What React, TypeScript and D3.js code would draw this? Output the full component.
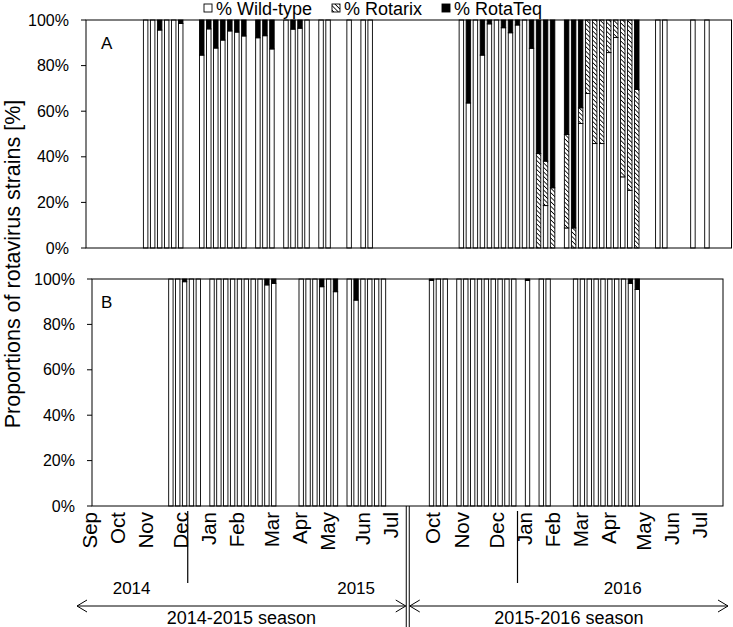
import React from 'react';
import * as d3 from 'd3';

// weekly categories, the Aug/Sep 2015 gap is left out of the axis
const weeks = (
  '2014-36 2014-37 2014-38 2014-39 2014-40 2014-41 2014-42 2014-43 2014-44 2014-45 2014-46 2014-47 2014-48 2014-49 2014-50 2014-51 2014-52 ' +
  '2015-01 2015-02 2015-03 2015-04 2015-05 2015-06 2015-07 2015-08 2015-09 2015-10 2015-11 2015-12 2015-13 2015-14 2015-15 2015-16 2015-17 ' +
  '2015-18 2015-19 2015-20 2015-21 2015-22 2015-23 2015-24 2015-25 2015-26 2015-27 2015-28 2015-29 ' +
  '2015-37 2015-38 2015-39 2015-40 2015-41 2015-42 2015-43 2015-44 2015-45 2015-46 2015-47 2015-48 2015-49 2015-50 2015-51 2015-52 2015-53 ' +
  '2016-01 2016-02 2016-03 2016-04 2016-05 2016-06 2016-07 2016-08 2016-09 2016-10 2016-11 2016-12 2016-13 2016-14 2016-15 2016-16 2016-17 ' +
  '2016-18 2016-19 2016-20 2016-21 2016-22 2016-23 2016-24 2016-25 2016-26 2016-27 2016-28 2016-29'
).split(' ');

// panel A
const weeksA = [
  '2014-44', '2014-45', '2014-46', '2014-47', '2014-48', '2014-49',
  '2014-52', '2015-01', '2015-02', '2015-03', '2015-04', '2015-05', '2015-06',
  '2015-08', '2015-09', '2015-10', '2015-12', '2015-13', '2015-14', '2015-15',
  '2015-17', '2015-18', '2015-21', '2015-23', '2015-24',
  '2015-44', '2015-45', '2015-46', '2015-47', '2015-48', '2015-49', '2015-50', '2015-51', '2015-52', '2015-53',
  '2016-01', '2016-02', '2016-03', '2016-04', '2016-06', '2016-07', '2016-08', '2016-09', '2016-10', '2016-11',
  '2016-12', '2016-13', '2016-14', '2016-15', '2016-16', '2016-19', '2016-20', '2016-24', '2016-26',
];
const wildA = [
  100, 100, 95.6, 100, 100, 98.5,
  84.6, 96.1, 87.7, 91.2, 95.2, 94.7, 93,
  92.2, 93.1, 87.3, 100, 96, 96.4, 100,
  100, 100, 100, 100, 100,
  100, 63.6, 100, 84.6, 98.3, 100, 96.6, 94.4, 97.8, 100,
  87.6, 0, 18.6, 0, 8.8, 0, 54.6, 67.8, 45.8, 45.8,
  85.7, 92.3, 31.2, 25.3, 0, 100, 100, 100, 100,
];
const rotarixA = [
  0, 0, 0, 0, 0, 0,
  0, 0, 0, 0, 0, 0, 0,
  0, 0, 0, 0, 0, 0, 0,
  0, 0, 0, 0, 0,
  0, 0, 0, 0, 0, 0, 0, 0, 0, 0,
  0, 41.4, 19.5, 26.4, 41, 8.8, 6.9, 32.2, 54.2, 54.2,
  14.3, 7.7, 68.8, 74.7, 69.6, 0, 0, 0, 0,
];
const rotateqA = [
  0, 0, 4.4, 0, 0, 1.5,
  15.4, 3.9, 12.3, 8.8, 4.8, 5.3, 7,
  7.8, 6.9, 12.7, 0, 4, 3.6, 0,
  0, 0, 0, 0, 0,
  0, 36.4, 0, 15.4, 1.7, 0, 3.4, 5.6, 2.2, 0,
  12.4, 58.6, 61.9, 73.6, 50.2, 91.2, 38.5, 0, 0, 0,
  0, 0, 0, 0, 30.4, 0, 0, 0, 0,
];

// panel B
const weeksB = [
  '2014-47', '2014-48', '2014-49', '2014-50', '2014-51',
  '2015-01', '2015-02', '2015-03', '2015-04', '2015-05', '2015-06', '2015-07', '2015-08', '2015-09', '2015-10',
  '2015-14', '2015-15', '2015-16', '2015-17', '2015-18', '2015-19',
  '2015-21', '2015-22', '2015-23', '2015-24', '2015-25', '2015-26',
  '2015-40', '2015-41', '2015-42',
  '2015-44', '2015-45', '2015-46', '2015-47', '2015-48', '2015-49', '2015-50', '2015-51', '2015-52',
  '2016-01', '2016-03', '2016-04',
  '2016-08', '2016-09', '2016-10', '2016-11', '2016-12', '2016-13', '2016-14', '2016-15', '2016-16', '2016-17',
];
const rotateqB = [
  0, 0, 1.2, 0, 0,
  0, 0, 0, 0, 0, 0, 0, 0, 2.6, 1.9,
  0, 0, 0, 3.4, 0, 5.6,
  0, 9.3, 0, 0, 0, 0,
  0.6, 0, 0,
  0, 0, 0, 0, 0, 0, 0, 0, 0,
  0.6, 0, 0,
  0, 0, 0, 0, 0, 0, 0, 0, 1.9, 4.6,
];
const rotarixB = weeksB.map(() => 0);
const wildB = [
  100, 100, 98.8, 100, 100,
  100, 100, 100, 100, 100, 100, 100, 100, 97.4, 98.1,
  100, 100, 100, 96.6, 100, 94.4,
  100, 90.7, 100, 100, 100, 100,
  99.4, 100, 100,
  100, 100, 100, 100, 100, 100, 100, 100, 100,
  99.4, 100, 100,
  100, 100, 100, 100, 100, 100, 100, 100, 98.1, 95.4,
];

const yTicks = [0, 20, 40, 60, 80, 100];
const monthLabels = ['Sep', 'Oct', 'Nov', 'Dec', 'Jan', 'Feb', 'Mar', 'Apr', 'May', 'Jun', 'Jul',
  'Oct', 'Nov', 'Dec', 'Jan', 'Feb', 'Mar', 'Apr', 'May', 'Jun', 'Jul'];
const monthWeeks = ['2014-36', '2014-40', '2014-44', '2014-49', '2015-01', '2015-05', '2015-10', '2015-14', '2015-18', '2015-23', '2015-27',
  '2015-40', '2015-44', '2015-49', '2015-53', '2016-04', '2016-08', '2016-12', '2016-17', '2016-21', '2016-25'];
const yearLabels = ['2014', '2015', '2016'];
const yearWeeks = ['2014-42', '2015-22', '2016-14'];
const yearSplitWeeks = ['2014-50', '2015-52'];
const seasonLabels = ['2014-2015 season', '2015-2016 season'];
const keys = ['wild', 'rotarix', 'rotateq'];
const legendLabels = ['% Wild-type', '% Rotarix', '% RotaTeq'];

const FONT = 'Liberation Sans, Arial, Helvetica, sans-serif';
const fills: Record<string, string> = { wild: '#fff', rotarix: 'url(#hatch)', rotateq: '#000' };

const rows = (wk: string[], w: number[], rx: number[], rq: number[]) =>
  wk.map((week, i) => ({ week, wild: w[i], rotarix: rx[i], rotateq: rq[i] }));

function Panel({ left, right, top, bottom, data, letter, letterX }) {
  const x = d3.scaleBand<string>().domain(weeks).range([left, right]).paddingInner(0.36).paddingOuter(0.18);
  const y = d3.scaleLinear().domain([0, 100]).range([bottom, top]);
  const series = d3.stack<any>().keys(keys)(data);
  return (
    <g>
      {series.map((s) => (
        <g key={s.key} fill={fills[s.key]} stroke="#000" strokeWidth={0.9}>
          {s.map((d, i) =>
            d[1] - d[0] > 0 ? (
              <rect key={i} x={x(d.data.week)} width={x.bandwidth()} y={y(d[1])} height={y(d[0]) - y(d[1])} />
            ) : null
          )}
        </g>
      ))}
      <rect x={left} y={top} width={right - left} height={bottom - top} fill="none" stroke="#000" strokeWidth={1} />
      {yTicks.map((t) => (
        <g key={t}>
          <line x1={left - 5} x2={left} y1={y(t)} y2={y(t)} stroke="#000" />
          <text x={left - 17} y={y(t)} dy="0.35em" textAnchor="end" fontSize={16}>{t}%</text>
        </g>
      ))}
      <text x={left + letterX} y={top + 28.5} fontSize={17}>{letter}</text>
    </g>
  );
}

export default function App() {
  const dataA = rows(weeksA, wildA, rotarixA, rotateqA);
  const dataB = rows(weeksB, wildB, rotarixB, rotateqB);
  const xA = d3.scaleBand<string>().domain(weeks).range([86, 731.5]).paddingInner(0.36).paddingOuter(0.18);
  const mid = (w: string) => (xA(w) as number) + xA.bandwidth() / 2;
  const split = ((xA('2015-29') as number) + xA.bandwidth() + (xA('2015-37') as number)) / 2 - 1;
  const legendX = [204, 332, 442];
  const arrowY = 606;
  const arrows = [[77, split - 2], [split + 2, 728]];

  return (
    <svg width={733} height={627} style={{ position: 'absolute', left: 0, top: 0 }} fontFamily={FONT}>
      <defs>
        <pattern id="hatch" patternUnits="userSpaceOnUse" width={3.2} height={3.2} patternTransform="rotate(-45)">
          <rect width={3.2} height={3.2} fill="#fff" />
          <line x1={0} y1={0} x2={0} y2={3.2} stroke="#000" strokeWidth={1.6} />
        </pattern>
      </defs>
      <rect width={733} height={627} fill="#fff" />

      {legendLabels.map((l, i) => (
        <g key={l}>
          <rect x={legendX[i]} y={4} width={8} height={8} fill={fills[keys[i]]} stroke="#000" strokeWidth={0.9} />
          <text x={legendX[i] + 12} y={15} fontSize={18}>{l}</text>
        </g>
      ))}

      <Panel left={86} right={731.5} top={20} bottom={248} data={dataA} letter="A" letterX={15} />
      <Panel left={92} right={723} top={279} bottom={506} data={dataB} letter="B" letterX={9} />

      <text transform="translate(20,264) rotate(-90)" textAnchor="middle" fontSize={21.5}>
        Proportions of rotavirus strains [%]
      </text>

      {monthLabels.map((m, i) => (
        <text key={i} transform={`translate(${mid(monthWeeks[i])},512) rotate(-90)`} dy="0.35em" textAnchor="end" fontSize={20.5}>
          {m}
        </text>
      ))}
      {yearLabels.map((t, i) => (
        <text key={t} x={mid(yearWeeks[i])} y={594} textAnchor="middle" fontSize={17}>{t}</text>
      ))}
      {yearSplitWeeks.map((w) => (
        <line key={w} x1={mid(w)} x2={mid(w)} y1={511} y2={583} stroke="#000" strokeWidth={1.2} />
      ))}
      <line x1={split - 1.5} x2={split - 1.5} y1={506} y2={627} stroke="#000" strokeWidth={1} />
      <line x1={split + 1.5} x2={split + 1.5} y1={506} y2={627} stroke="#000" strokeWidth={1} />

      {arrows.map(([a, b], i) => (
        <g key={i} stroke="#000" strokeWidth={1} fill="none">
          <line x1={a} x2={b} y1={arrowY} y2={arrowY} />
          <polyline points={`${a + 10},${arrowY - 6} ${a},${arrowY} ${a + 10},${arrowY + 6}`} />
          <polyline points={`${b - 10},${arrowY - 6} ${b},${arrowY} ${b - 10},${arrowY + 6}`} />
          <text x={(a + b) / 2} y={624} textAnchor="middle" fontSize={18} stroke="none" fill="#000">
            {seasonLabels[i]}
          </text>
        </g>
      ))}
    </svg>
  );
}
